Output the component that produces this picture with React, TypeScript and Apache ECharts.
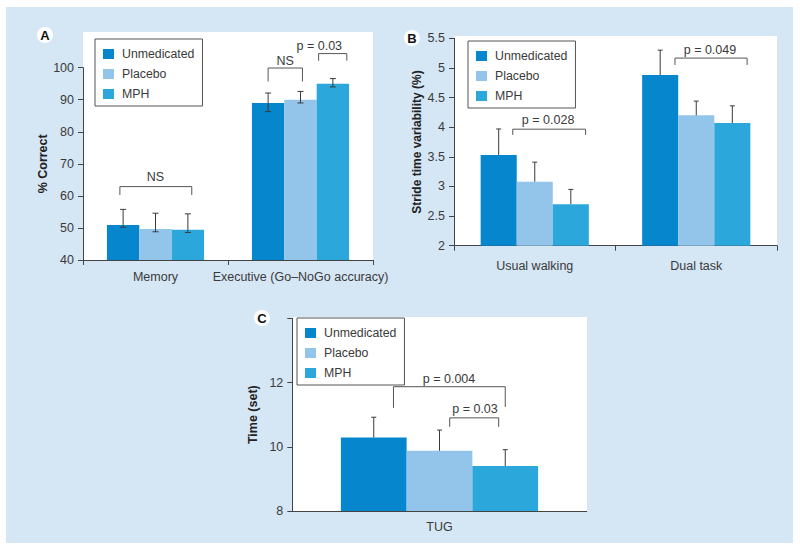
import React, { useEffect, useRef } from "react";
import * as echarts from "echarts";

// ---------- data ----------
const groups = ["Unmedicated", "Placebo", "MPH"];
const colors = ["#0686cc", "#93c5ea", "#2ca7dc"];

// Panel A
const catsA = ["Memory", "Executive (Go–NoGo accuracy)"];
const meanA = [
  [50.9, 89.0], // Unmedicated
  [49.7, 90.0], // Placebo
  [49.4, 95.0], // MPH
];
const errHiA = [
  [55.8, 92.1],
  [54.6, 92.6],
  [54.4, 96.6],
];
const errLoA = [
  [50.2, 86.3],
  [48.8, 89.0],
  [48.6, 94.0],
];
const ticksA = [40, 50, 60, 70, 80, 90, 100];

// Panel B
const catsB = ["Usual walking", "Dual task"];
const meanB = [
  [3.53, 4.88],
  [3.08, 4.2],
  [2.7, 4.07],
];
const errHiB = [
  [3.97, 5.3],
  [3.41, 4.44],
  [2.95, 4.36],
];

// Panel C
const catsC = ["TUG"];
const meanC = [[10.29], [9.875], [9.4]];
const errHiC = [[10.92], [10.52], [9.91]];
const ticksC = [8, 10, 12];

// significance brackets: [category, x1 (bar units), x2, line value, left end, right end]
const bracketsA = [
  [0, -1.1, 1.12, 62.9, 60.3, 60.3],
  [1, -1.0, 0.06, 99.9, 95.7, 95.7],
  [1, 0.56, 1.43, 104.4, 102.2, 102.2],
];
const bracketLabelsA = ["NS", "NS", "p = 0.03"];
const labelPosA = [
  [0, 0.0, 66.0],
  [1, -0.47, 102.2],
  [1, 0.58, 106.9],
];
const bracketsB = [
  [0, -0.61, 1.41, 3.966, 3.87, 3.87],
  [1, -0.59, 1.41, 5.166, 5.05, 5.05],
];
const bracketLabelsB = ["p = 0.028", "p = 0.049"];
const labelPosB = [
  [0, 0.37, 4.12],
  [1, 0.38, 5.31],
];
const bracketsC = [
  [0, -0.7, 1.0, 11.87, 11.21, 11.24],
  [0, 0.155, 0.9, 10.9, 10.62, 10.62],
];
const bracketLabelsC = ["p = 0.004", "p = 0.03"];
const labelPosC = [
  [0, 0.145, 12.12],
  [0, 0.54, 11.18],
];

// ---------- helpers ----------
const FONT = '"Liberation Sans", Arial, Helvetica, sans-serif';
const GAP = 0.33;
const INK = "#3a3a3a";

function barWidth(api: any) {
  const band = api.size([1, 0])[0];
  return (band * (1 - GAP)) / 3;
}

function errorSeries(gridIdx: number, hi: number[][], lo: number[][] | null, mean: number[][], cap: number) {
  const data: number[][] = [];
  hi.forEach((row, k) =>
    row.forEach((h, c) => {
      data.push([c, k, lo ? lo[k][c] : mean[k][c], h]);
    })
  );
  return {
    type: "custom",
    xAxisIndex: gridIdx,
    yAxisIndex: gridIdx,
    z: 5,
    silent: true,
    encode: { x: 0, y: [2, 3] },
    data,
    renderItem: (params: any, api: any) => {
      const c = api.value(0);
      const k = api.value(1);
      const bw = barWidth(api);
      const pLo = api.coord([c, api.value(2)]);
      const pHi = api.coord([c, api.value(3)]);
      const x = pLo[0] + (k - 1) * bw;
      const st = { stroke: INK, lineWidth: 1 };
      const children: any[] = [
        { type: "line", shape: { x1: x, y1: pLo[1], x2: x, y2: pHi[1] }, style: st },
        { type: "line", shape: { x1: x - cap, y1: pHi[1], x2: x + cap, y2: pHi[1] }, style: st },
      ];
      if (lo) {
        children.push({ type: "line", shape: { x1: x - cap, y1: pLo[1], x2: x + cap, y2: pLo[1] }, style: st });
      }
      return { type: "group", children };
    },
  };
}

function bracketSeries(gridIdx: number, brackets: number[][], labels: string[], labelPos: number[][]) {
  return {
    type: "custom",
    xAxisIndex: gridIdx,
    yAxisIndex: gridIdx,
    z: 6,
    silent: true,
    clip: false,
    encode: { x: 0, y: 3 },
    data: brackets,
    renderItem: (params: any, api: any) => {
      const i = params.dataIndex;
      const c = api.value(0);
      const bw = barWidth(api);
      const base = api.coord([c, api.value(3)]);
      const cx = base[0];
      const x1 = cx + api.value(1) * bw;
      const x2 = cx + api.value(2) * bw;
      const yLine = base[1];
      const yL = api.coord([c, api.value(4)])[1];
      const yR = api.coord([c, api.value(5)])[1];
      const lp = labelPos[i];
      const lpt = api.coord([lp[0], lp[2]]);
      return {
        type: "group",
        children: [
          {
            type: "polyline",
            shape: { points: [[x1, yL], [x1, yLine], [x2, yLine], [x2, yR]] },
            style: { stroke: "#555", lineWidth: 1, fill: "none" },
          },
          {
            type: "text",
            x: cx + lp[1] * bw,
            y: lpt[1],
            style: {
              text: labels[i],
              fill: INK,
              fontSize: 12.5,
              fontFamily: FONT,
              align: "center",
              verticalAlign: "middle",
            },
          },
        ],
      };
    },
  };
}

function barSeries(gridIdx: number, mean: number[][]) {
  return mean.map((vals, k) => ({
    type: "bar",
    name: groups[k],
    xAxisIndex: gridIdx,
    yAxisIndex: gridIdx,
    data: vals,
    barGap: "0%",
    barCategoryGap: GAP * 100 + "%",
    itemStyle: { color: colors[k] },
    silent: true,
  }));
}

function legendAt(left: number, top: number) {
  return {
    left,
    top,
    orient: "vertical",
    data: groups,
    icon: "rect",
    itemWidth: 11,
    itemHeight: 10,
    itemGap: 6,
    padding: [8, 8, 5, 8],
    backgroundColor: "#fff",
    borderColor: "#555",
    borderWidth: 1,
    borderRadius: 0,
    selectedMode: false,
    z: 10,
    textStyle: { fontSize: 12.3, fontFamily: FONT, color: INK, lineHeight: 14, padding: [0, 0, 0, 3] },
  };
}

const axisLineStyle = { lineStyle: { color: "#444", width: 1 } };

function panelLetter(letter: string, x: number, y: number) {
  return [
    { type: "circle", shape: { cx: x, cy: y, r: 8 }, style: { fill: "#fff" }, z: 20 },
    {
      type: "text",
      x,
      y,
      style: {
        text: letter,
        fill: "#111",
        fontSize: 13,
        fontWeight: "bold",
        fontFamily: FONT,
        align: "center",
        verticalAlign: "middle",
      },
      z: 21,
    },
  ];
}

export default function App() {
  const ref = useRef<HTMLDivElement>(null);
  useEffect(() => {
    if (!ref.current) return;
    const chart = echarts.init(ref.current, null, { renderer: "svg" });
    const option: any = {
      animation: false,
      backgroundColor: "#fff",
      textStyle: { fontFamily: FONT },
      graphic: [
        { type: "rect", shape: { x: 6, y: 7, width: 787, height: 536 }, style: { fill: "#d5e6f5" }, z: -10 },
        { type: "rect", shape: { x: 83, y: 32, width: 290, height: 228 }, style: { fill: "#fff" }, z: -5 },
        { type: "rect", shape: { x: 454, y: 36, width: 323, height: 210 }, style: { fill: "#fff" }, z: -5 },
        { type: "rect", shape: { x: 292, y: 317, width: 295, height: 194 }, style: { fill: "#fff" }, z: -5 },
        ...panelLetter("A", 45, 35),
        ...panelLetter("B", 412, 38),
        ...panelLetter("C", 262, 318),
      ],
      legend: [legendAt(95, 39), legendAt(468, 41), legendAt(297, 318)],
      grid: [
        { left: 83, right: 427, top: 67.7, bottom: 291 },
        { left: 454, right: 23, top: 38.3, bottom: 305.3 },
        { left: 292.3, right: 213.3, top: 318.3, bottom: 40 },
      ],
      xAxis: [
        {
          gridIndex: 0,
          type: "category",
          data: catsA,
          axisLine: axisLineStyle,
          axisTick: { show: true, length: 5, lineStyle: { color: "#444" } },
          axisLabel: { fontSize: 12.5, color: INK, margin: 10, fontFamily: FONT, interval: 0, hideOverlap: false },
        },
        {
          gridIndex: 1,
          type: "category",
          data: catsB,
          axisLine: axisLineStyle,
          axisTick: { show: true, length: 5, lineStyle: { color: "#444" } },
          axisLabel: { fontSize: 12.5, color: INK, margin: 14, fontFamily: FONT, interval: 0 },
        },
        {
          gridIndex: 2,
          type: "category",
          data: catsC,
          axisLine: axisLineStyle,
          axisTick: { show: false },
          axisLabel: { fontSize: 12.5, color: INK, margin: 9, fontFamily: FONT },
        },
      ],
      yAxis: [
        {
          gridIndex: 0,
          type: "value",
          min: 40,
          max: 100,
          interval: 10,
          name: "% Correct",
          nameLocation: "middle",
          nameGap: 31,
          nameTextStyle: { fontSize: 12.5, fontWeight: "bold", color: "#222", fontFamily: FONT },
          axisLine: { show: true, ...axisLineStyle },
          axisTick: { show: true, length: 5, lineStyle: { color: "#444" }, customValues: ticksA },
          axisLabel: { fontSize: 12.5, color: INK, margin: 9, fontFamily: FONT, customValues: ticksA },
          splitLine: { show: false },
        },
        {
          gridIndex: 1,
          type: "value",
          min: 2,
          max: 5.5,
          interval: 0.5,
          name: "Stride time variability (%)",
          nameLocation: "middle",
          nameGap: 31,
          nameTextStyle: { fontSize: 12, fontWeight: "bold", color: "#222", fontFamily: FONT },
          axisLine: { show: true, ...axisLineStyle },
          axisTick: { show: true, length: 5, lineStyle: { color: "#444" } },
          axisLabel: { fontSize: 12.5, color: INK, margin: 9, fontFamily: FONT },
          splitLine: { show: false },
        },
        {
          gridIndex: 2,
          type: "value",
          min: 8,
          max: 14,
          interval: 2,
          name: "Time (set)",
          nameLocation: "middle",
          nameGap: 33,
          nameTextStyle: { fontSize: 12.5, fontWeight: "bold", color: "#222", fontFamily: FONT },
          axisLine: { show: true, ...axisLineStyle },
          axisTick: { show: true, length: 5, lineStyle: { color: "#444" } },
          axisLabel: { fontSize: 12.5, color: INK, margin: 9, fontFamily: FONT, customValues: ticksC },
          splitLine: { show: false },
        },
      ],
      series: [
        ...barSeries(0, meanA),
        ...barSeries(1, meanB),
        ...barSeries(2, meanC),
        errorSeries(0, errHiA, errLoA, meanA, 3),
        errorSeries(1, errHiB, null, meanB, 2.5),
        errorSeries(2, errHiC, null, meanC, 2.5),
        bracketSeries(0, bracketsA, bracketLabelsA, labelPosA),
        bracketSeries(1, bracketsB, bracketLabelsB, labelPosB),
        bracketSeries(2, bracketsC, bracketLabelsC, labelPosC),
      ],
    };
    chart.setOption(option);
    return () => chart.dispose();
  }, []);
  return <div ref={ref} style={{ position: "fixed", left: 0, top: 0, width: 800, height: 551 }} />;
}
